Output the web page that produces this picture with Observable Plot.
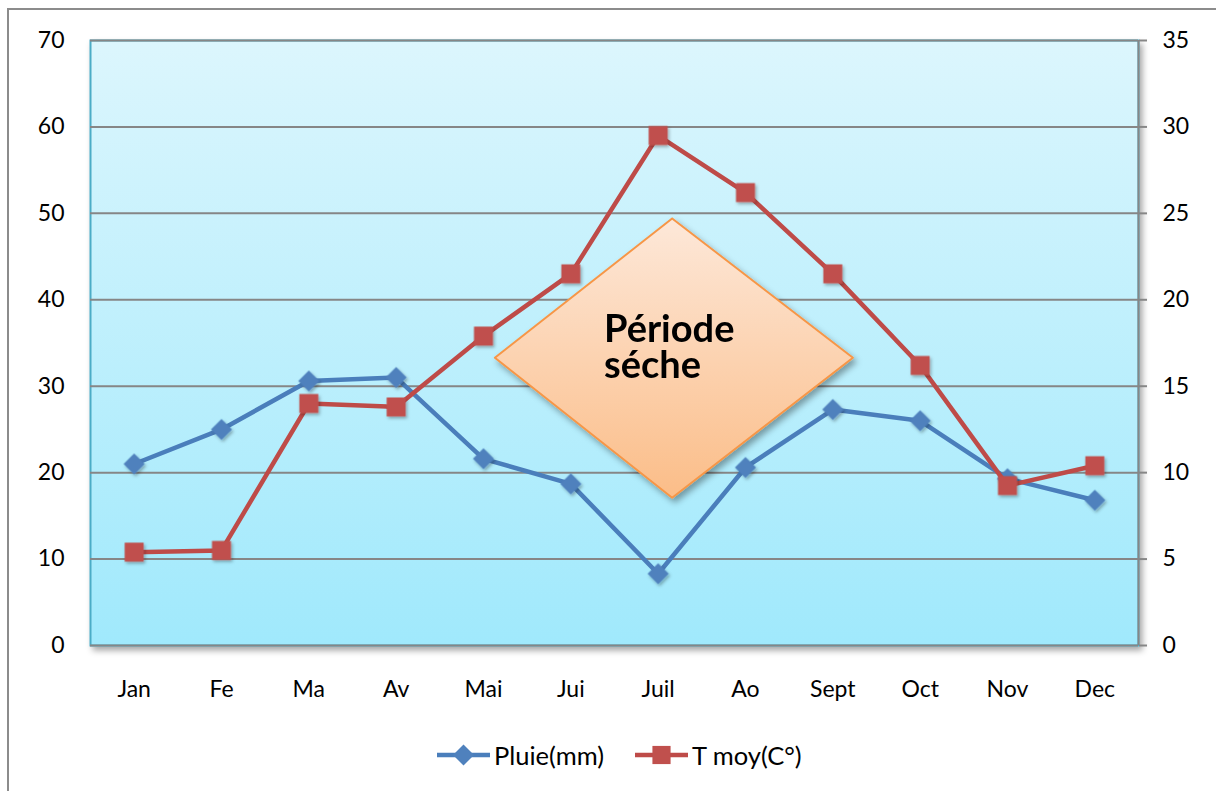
<!DOCTYPE html>
<html><head><meta charset="utf-8">
<script src="https://cdn.jsdelivr.net/npm/d3@7"></script>
<script src="https://cdn.jsdelivr.net/npm/@observablehq/plot@0.6"></script>
<style>
html,body{margin:0;padding:0;background:#fff;overflow:hidden;width:1216px;height:791px;}
#frame{position:absolute;left:7px;top:8px;width:1400px;height:1000px;border:2px solid #8c8c8c;box-sizing:border-box;}
#chart{position:absolute;left:0;top:0;}
#legend{position:absolute;top:738px;left:437px;height:34px;display:flex;align-items:center;font-family:Lato,"Open Sans",sans-serif;font-size:25.5px;color:#000;white-space:nowrap;}
#legend .item{display:flex;align-items:center;}
#legend svg{display:block;margin-right:4px;}
</style></head>
<body>
<div id="frame"></div>
<div id="chart"></div>
<div id="legend"></div>
<script>
// ---- data ----
const months = ["Jan","Fe","Ma","Av","Mai","Jui","Juil","Ao","Sept","Oct","Nov","Dec"];
const pluie = [21, 25, 30.6, 31, 21.6, 18.7, 8.3, 20.6, 27.3, 26, 19.3, 16.8];          // mm, left axis
const tmoy  = [5.4, 5.5, 14.0, 13.8, 17.9, 21.5, 29.5, 26.2, 21.5, 16.2, 9.25, 10.4];  // °C, right axis
const leftTicks  = [0, 10, 20, 30, 40, 50, 60, 70];
const rightTicks = [0, 5, 10, 15, 20, 25, 30, 35];
const seriesNames = ["Pluie(mm)", "T moy(C°)"];
// annotation (in month-index / left-axis units)
const annotationShape = [
  {x: 6.16, y: 49.4}, {x: 8.23, y: 33.3}, {x: 6.16, y: 17.1}, {x: 4.13, y: 33.3}, {x: 6.16, y: 49.4}
];
const annotationText = [{x: 5.38, y: 34.4, label: "Période\nséche"}];

const xDomain = [-0.5, months.length - 0.5];
const rows = months.map((m, i) => ({i, m, pluie: pluie[i], tmoy: tmoy[i]}));
const ratio = leftTicks[leftTicks.length - 1] / rightTicks[rightTicks.length - 1];

const blue = "#4a7ebb", blueDot = "#4f81bd", red = "#be4b48", redDot = "#c0504d";

const svg = Plot.plot({
  width: 1216,
  height: 720,
  marginLeft: 90,
  marginRight: 78,
  marginTop: 40,
  marginBottom: 75,
  style: {fontFamily: "Lato, 'Open Sans', sans-serif", fontSize: "23px", color: "#000", background: "transparent"},
  x: {domain: xDomain},
  y: {domain: [0, leftTicks[leftTicks.length - 1]]},
  marks: [
    Plot.frame({fill: "url(#bgGrad)", stroke: "#4bacc6", strokeWidth: 2, ariaDescription: "plotbg"}),
    Plot.gridY(leftTicks, {stroke: "#868686", strokeOpacity: 1, strokeWidth: 2}),
    Plot.ruleX([xDomain[1]], {stroke: "#868686", strokeWidth: 2}),
    Plot.axisX(d3.range(months.length), {tickFormat: i => months[i], tickSize: 0, tickPadding: 35, fontSize: 23, label: null}),
    Plot.axisY(leftTicks, {anchor: "left", tickSize: 0, tickPadding: 26, fontSize: 23, label: null}),
    Plot.axisY(rightTicks.map(d => d * ratio), {anchor: "right", tickFormat: d => d / ratio, tickSize: 8, tickPadding: 16, stroke: "#868686", strokeWidth: 2, fontSize: 23, label: null}),
    Plot.line(rows, {x: "i", y: "pluie", stroke: blue, strokeWidth: 4.5}),
    Plot.dot(rows, {x: "i", y: "pluie", symbol: "diamond2", r: 9.5, fill: blueDot, stroke: "none", ariaDescription: "pdots"}),
    Plot.line(rows, {x: "i", y: d => d.tmoy * ratio, stroke: red, strokeWidth: 4.5}),
    Plot.dot(rows, {x: "i", y: d => d.tmoy * ratio, symbol: "square", r: 10.7, fill: redDot, stroke: "none", ariaDescription: "tdots"}),
    Plot.line(annotationShape, {x: "x", y: "y", fill: "url(#peachGrad)", stroke: "#f79646", strokeWidth: 2, ariaDescription: "diamond"}),
    Plot.text(annotationText, {x: "x", y: "y", text: "label", textAnchor: "start", lineAnchor: "middle", lineHeight: 0.95, fontSize: 38, fontWeight: "bold", fill: "#000", fontFamily: "Lato, 'Open Sans', sans-serif"})
  ]
});

d3.select(svg).insert("defs", ":first-child").html(`
  <linearGradient id="bgGrad" x1="0" y1="0" x2="0" y2="1">
    <stop offset="0" stop-color="#dcf6fd"/>
    <stop offset="1" stop-color="#a0e9fc"/>
  </linearGradient>
  <linearGradient id="peachGrad" x1="0" y1="0" x2="0" y2="1">
    <stop offset="0" stop-color="#fde8d9"/>
    <stop offset="1" stop-color="#fbbd88"/>
  </linearGradient>
  <filter id="shadow" x="-5%" y="-5%" width="110%" height="115%">
    <feDropShadow dx="3" dy="4" stdDeviation="3" flood-color="#000" flood-opacity="0.35"/>
  </filter>
  <filter id="shadowSmall" x="-30%" y="-30%" width="160%" height="160%">
    <feDropShadow dx="1.5" dy="2" stdDeviation="1.5" flood-color="#000" flood-opacity="0.3"/>
  </filter>
`);
d3.select(svg).select('[aria-description="plotbg"]').attr("filter", "url(#shadow)");
d3.select(svg).select('[aria-description="diamond"]').attr("filter", "url(#shadow)");
d3.select(svg).select('[aria-description="tdots"]').attr("filter", "url(#shadowSmall)");
d3.select(svg).select('[aria-description="pdots"]').attr("filter", "url(#shadowSmall)");

document.getElementById("chart").appendChild(svg);

// legend
const legend = d3.select("#legend");
const items = [
  {name: seriesNames[0], color: blue, dot: blueDot, sym: d3.symbolDiamond2, size: 280},
  {name: seriesNames[1], color: red, dot: redDot, sym: d3.symbolSquare, size: 330}
];
items.forEach((it, k) => {
  const div = legend.append("div").attr("class", "item").style("margin-left", k ? "31px" : "0");
  const s = div.append("svg").attr("width", 53).attr("height", 24);
  s.append("line").attr("x1", 0).attr("x2", 53).attr("y1", 12).attr("y2", 12).attr("stroke", it.color).attr("stroke-width", 4.5);
  s.append("path").attr("transform", "translate(26.5,12)").attr("d", d3.symbol(it.sym, it.size)()).attr("fill", it.dot);
  div.append("span").text(it.name);
});
</script>
</body></html>
